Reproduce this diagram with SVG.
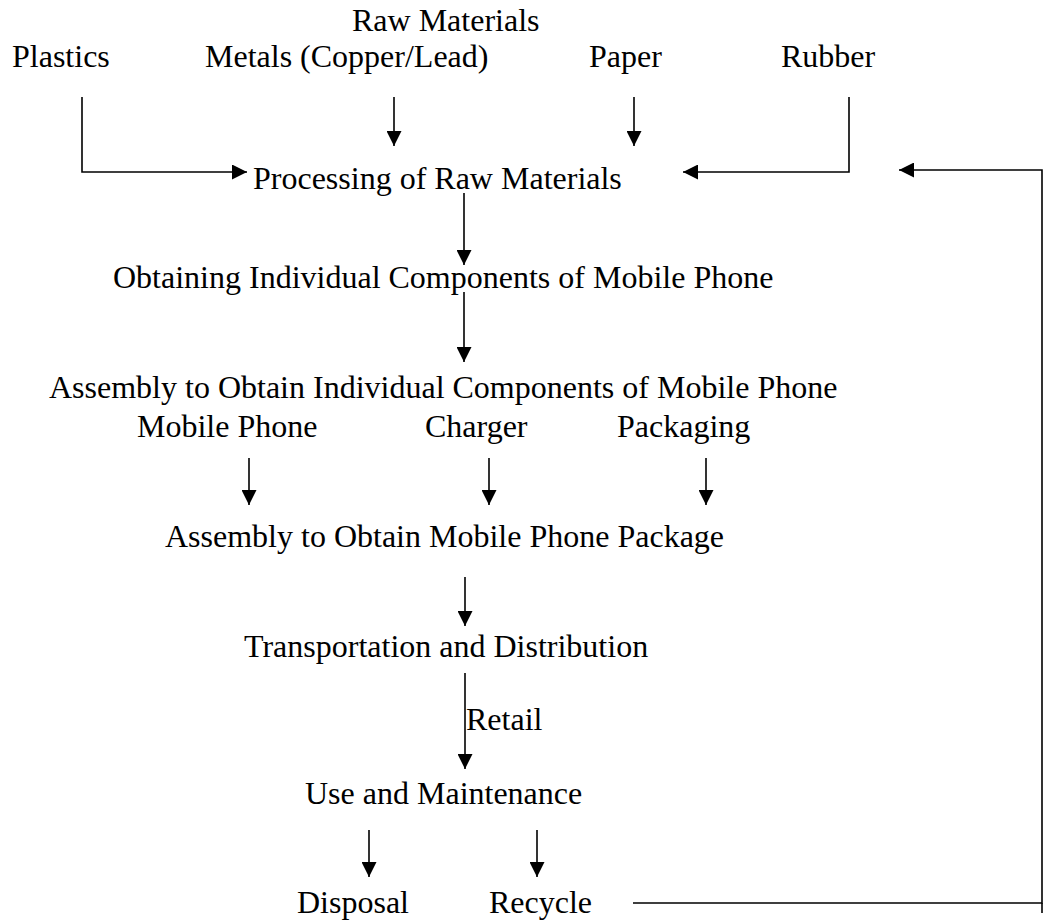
<svg xmlns="http://www.w3.org/2000/svg" width="1048" height="922" viewBox="0 0 1048 922">
<style>
text{font-family:"Liberation Serif","Times New Roman",serif;font-size:32px;fill:#000}
.c{fill:none;stroke:#000;stroke-width:1.6}
</style>
<defs>
<marker id="ah" markerUnits="userSpaceOnUse" markerWidth="15" markerHeight="15" viewBox="0 0 15 15" refX="15" refY="7.5" orient="auto">
<path d="M0,0 L15,7.5 L0,15 z" fill="#000"/>
</marker>
</defs>
<rect width="1048" height="922" fill="#fff"/>
<g id="raw-materials"><text x="352" y="31">Raw Materials</text></g>
<g id="plastics"><text x="12" y="67">Plastics</text></g>
<g id="metals"><text x="205" y="67">Metals (Copper/Lead)</text></g>
<g id="paper"><text x="589" y="67">Paper</text></g>
<g id="rubber"><text x="781" y="67">Rubber</text></g>
<g id="processing"><text x="253" y="189">Processing of Raw Materials</text></g>
<g id="obtaining"><text x="113" y="288">Obtaining Individual Components of Mobile Phone</text></g>
<g id="assembly-components"><text x="49" y="398">Assembly to Obtain Individual Components of Mobile Phone</text></g>
<g id="mobile-phone"><text x="137" y="437">Mobile Phone</text></g>
<g id="charger"><text x="425" y="437">Charger</text></g>
<g id="packaging"><text x="617" y="437">Packaging</text></g>
<g id="assembly-package"><text x="165" y="547">Assembly to Obtain Mobile Phone Package</text></g>
<g id="transport"><text x="244" y="657">Transportation and Distribution</text></g>
<g id="retail"><text x="466" y="730">Retail</text></g>
<g id="use"><text x="305" y="804">Use and Maintenance</text></g>
<g id="disposal"><text x="297" y="913">Disposal</text></g>
<g id="recycle"><text x="489" y="913">Recycle</text></g>
<g id="connectors" class="c">
<path class="c" d="M394,97 V146" marker-end="url(#ah)"/>
<path class="c" d="M634,97 V146" marker-end="url(#ah)"/>
<path class="c" d="M82,97 V172 H247" marker-end="url(#ah)"/>
<path class="c" d="M849,97 V172 H683" marker-end="url(#ah)"/>
<path class="c" d="M633,903 H1042 V170 H899" marker-end="url(#ah)" stroke-width="2"/>
<path class="c" d="M1042,903 V913" stroke-width="2"/>
<path class="c" d="M464,193 V265" marker-end="url(#ah)"/>
<path class="c" d="M464,292 V362" marker-end="url(#ah)"/>
<path class="c" d="M249,458 V505" marker-end="url(#ah)"/>
<path class="c" d="M489,458 V505" marker-end="url(#ah)"/>
<path class="c" d="M706,458 V505" marker-end="url(#ah)"/>
<path class="c" d="M465,577 V626" marker-end="url(#ah)"/>
<path class="c" d="M465,673 V769" marker-end="url(#ah)"/>
<path class="c" d="M369,830 V877" marker-end="url(#ah)"/>
<path class="c" d="M537,830 V877" marker-end="url(#ah)"/>
</g>
</svg>
